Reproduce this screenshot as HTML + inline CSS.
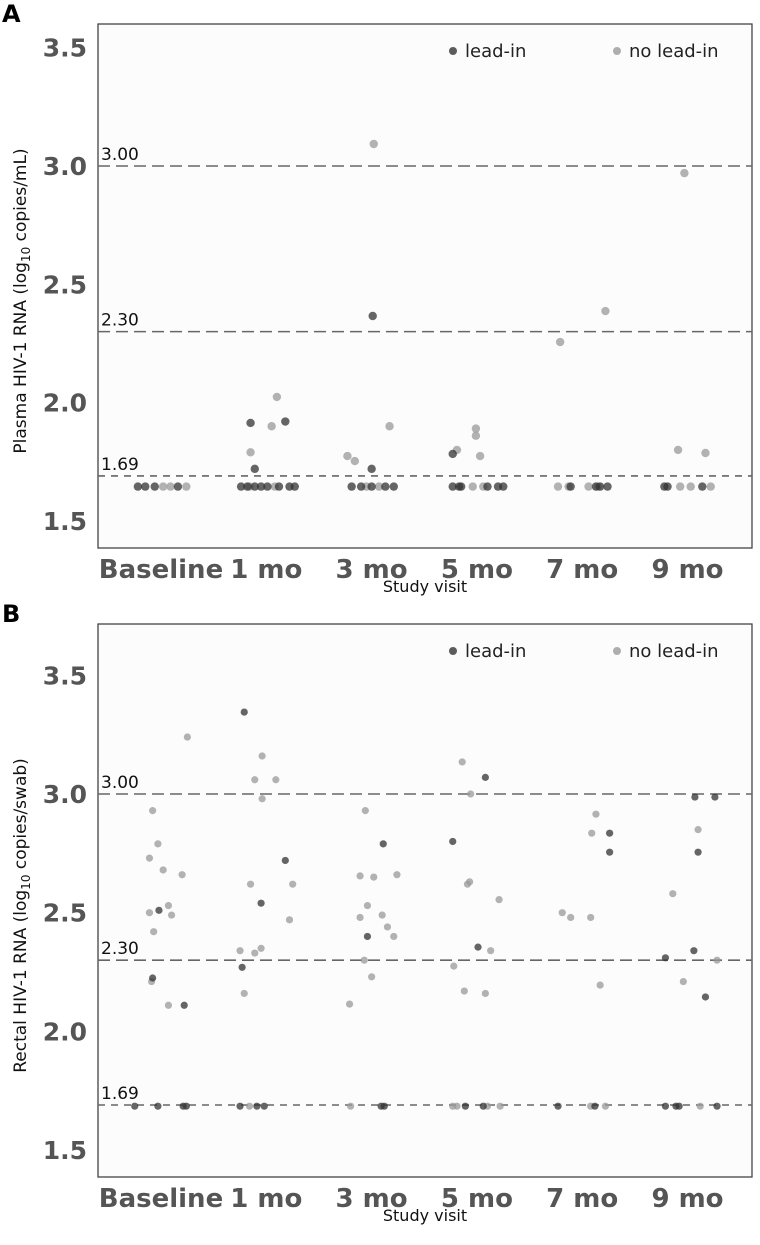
<!DOCTYPE html>
<html><head><meta charset="utf-8"><style>
body{margin:0;background:#fff;}
svg text{font-family:"DejaVu Sans","Liberation Sans",sans-serif;}
</style></head><body>
<svg id="fig" width="760" height="1240" viewBox="0 0 760 1240" xmlns="http://www.w3.org/2000/svg"></svg>
<script>
const categories=["Baseline","1 mo","3 mo","5 mo","7 mo","9 mo"];
const yTicks=[1.5,2.0,2.5,3.0,3.5];
const yTickLabels=["1.5","2.0","2.5","3.0","3.5"];
const refLines=[3.00,2.30,1.69];
const refLabels=["3.00","2.30","1.69"];
// Panel A: x = category index + jitter
const aLeadX=[-0.21,-0.14,-0.05,0.17, 0.77,0.83,0.90,0.96,1.02,1.13,1.23,1.28,0.86,1.19,0.90, 1.82,1.91,2.01,2.14,2.22,2.02,2.01, 2.78,2.84,2.86,3.11,3.21,3.26,2.78, 3.90,4.14,4.18,4.25, 4.79,4.82,5.15];
const aLeadY=[1.645,1.645,1.645,1.645, 1.645,1.645,1.645,1.645,1.645,1.645,1.645,1.645,1.914,1.92,1.72, 1.645,1.645,1.645,1.645,1.645,2.366,1.72, 1.645,1.645,1.645,1.645,1.645,1.645,1.783, 1.645,1.645,1.645,1.645, 1.645,1.645,1.645];
const aNoX=[0.03,0.10,0.25, 0.85,1.09,1.11,1.06,0.86, 1.96,2.08,2.03,1.78,1.85,2.18, 2.97,3.07,2.82,3.00,3.00,3.04, 3.78,3.88,4.07,4.16,3.80,4.23, 4.94,5.04,5.23,4.92,5.18,4.98];
const aNoY=[1.645,1.645,1.645, 1.645,1.645,2.024,1.90,1.79, 1.645,1.645,3.093,1.774,1.753,1.90, 1.645,1.645,1.80,1.89,1.86,1.774, 1.645,1.645,1.645,1.645,2.256,2.387, 1.645,1.645,1.645,1.80,1.787,2.97];
// Panel B
const bLeadX=[-0.24,-0.02,0.22,0.25,-0.01,-0.07,0.23, 0.80,1.19,0.96,0.78,0.76,0.92,0.99, 2.12,1.97,2.10,2.13, 3.09,2.78,3.02,2.90,3.07, 4.27,4.27,3.78,4.13, 5.08,5.27,5.11,4.80,5.18,5.07,4.80,4.90,4.93,5.29];
const bLeadY=[1.685,1.685,1.685,1.685,2.51,2.225,2.11, 3.345,2.72,2.54,2.27,1.685,1.685,1.685, 2.79,2.40,1.685,1.685, 3.07,2.80,2.355,1.685,1.685, 2.835,2.755,1.685,1.685, 2.987,2.987,2.755,2.31,2.145,2.34,1.685,1.685,1.685,1.685];
const bNoX=[0.26,-0.07,-0.02,-0.10,0.03,0.21,0.08,-0.10,0.11,-0.06,-0.08,0.08, 0.97,0.90,1.10,0.97,0.86,1.26,1.23,0.76,0.90,0.96,0.80,0.85, 1.95,1.90,2.03,2.25,1.97,2.11,1.90,2.16,2.22,1.94,2.01,1.80,1.81, 2.87,2.95,2.94,2.92,3.22,3.14,2.79,2.89,3.09,2.78,2.82,3.11,3.23, 4.14,4.10,3.82,3.90,4.09,4.18,4.09,4.23, 5.11,4.87,5.29,4.97,5.13];
const bNoY=[3.24,2.93,2.79,2.73,2.68,2.66,2.53,2.50,2.49,2.42,2.21,2.11, 3.16,3.06,3.06,2.98,2.62,2.62,2.47,2.34,2.33,2.35,2.16,1.685, 2.93,2.655,2.65,2.66,2.53,2.49,2.48,2.44,2.40,2.30,2.23,2.115,1.685, 3.135,3.00,2.63,2.62,2.555,2.34,2.275,2.17,2.16,1.685,1.685,1.685,1.685, 2.915,2.835,2.50,2.48,2.48,2.195,1.685,1.685, 2.85,2.58,2.30,2.21,1.685];

const NS="http://www.w3.org/2000/svg";
const svg=document.getElementById('fig');
function mk(tag,attrs,parent,text){const e=document.createElementNS(NS,tag);for(const k in attrs)e.setAttribute(k,attrs[k]);if(text!==undefined)e.textContent=text;(parent||svg).appendChild(e);return e;}

function panel(p){
  const g=mk('g',{});
  
  
  const L=98,R=752,T=p.top,B=p.bottom;
  const xS=i=>160+i*105.3;
  const yS=v=>p.y3-(v-3)*p.k;
  const t=mk('text',{x:2,y:T-2,'font-size':24,'font-weight':'bold',fill:'#000'},g,p.letter);
  
  
  const fr=mk('rect',{x:L,y:T,width:R-L,height:B-T,fill:'#fcfcfc',stroke:'#444','stroke-width':1.3},g);
  
  
  yTicks.forEach((v,i)=>{
    const e=mk('text',{x:87,y:yS(v)+9,'font-size':25,'font-weight':'bold',fill:'#555','text-anchor':'end'},g,yTickLabels[i]);
    
    
  });
  categories.forEach((c,i)=>{
    const e=mk('text',{x:xS(i)+1,y:B+30,'font-size':26,'font-weight':'bold',fill:'#555','text-anchor':'middle'},g,c);
    
    
  });
  refLines.forEach((v,i)=>{
    const l=mk('line',{x1:L,x2:R,y1:yS(v),y2:yS(v),stroke:'#666','stroke-width':1.6,'stroke-dasharray':i<2?'12,6':'7,6'},g);
    
    
    const e=mk('text',{x:101,y:yS(v)-6,'font-size':17,fill:'#111'},g,refLabels[i]);
    
    
  });
  function dots(xs,ys,col,op,nm){
    xs.forEach((x,i)=>{
      const c=mk('circle',{cx:xS(x),cy:yS(ys[i]),r:p.r,fill:col,'fill-opacity':op},g);
      
      
    });
  }
  dots(p.nx,p.ny,'#9a9a9a',0.75,'no-lead-in-point');
  dots(p.lx,p.ly,'#333',0.75,'lead-in-point');
  const lg=mk('g',{},g);
  
  
  mk('circle',{cx:453,cy:T+27,r:4,fill:'#333','fill-opacity':0.8},lg);
  mk('text',{x:465,y:T+33,'font-size':18,fill:'#222'},lg,'lead-in');
  mk('circle',{cx:617,cy:T+27,r:4,fill:'#9a9a9a','fill-opacity':0.8},lg);
  mk('text',{x:629,y:T+33,'font-size':18,fill:'#222'},lg,'no lead-in');
  const xt=mk('text',{x:425,y:B+44,'font-size':16,fill:'#111','text-anchor':'middle'},g,'Study visit');
  
  
  const cy=(T+B)/2+15;
  const yt=mk('text',{x:0,y:0,'font-size':17,fill:'#111','text-anchor':'middle',transform:`translate(26,${cy}) rotate(-90)`},g);
  
  
  mk('tspan',{},yt,p.yt1);
  mk('tspan',{'font-size':12,dy:4},yt,'10');
  mk('tspan',{dy:-4},yt,p.yt2);
}
panel({name:'panel-a-plasma',letter:'A',top:24,bottom:548,y3:166,k:236.6,r:4.2,lx:aLeadX,ly:aLeadY,nx:aNoX,ny:aNoY,yt1:'Plasma HIV-1 RNA (log',yt2:' copies/mL)'});
panel({name:'panel-b-rectal',letter:'B',top:624,bottom:1177,y3:794,k:237.4,r:3.6,lx:bLeadX,ly:bLeadY,nx:bNoX,ny:bNoY,yt1:'Rectal HIV-1 RNA (log',yt2:' copies/swab)'});
</script>
</body></html>
